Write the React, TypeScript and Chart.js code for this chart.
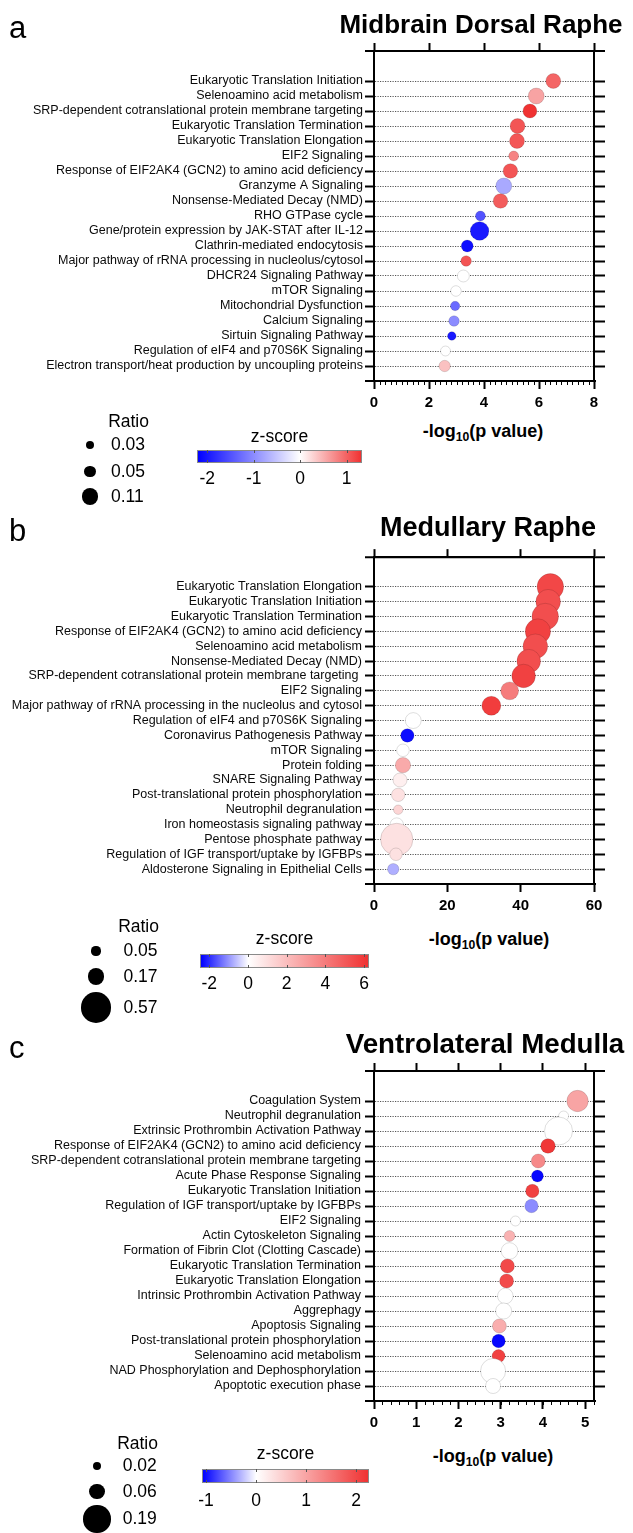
import React, { useEffect, useRef } from 'react';
import { Chart, registerables } from 'chart.js';

Chart.register(...registerables);

// ================= DATA =================
// Panel a — Midbrain Dorsal Raphe
const categoriesA = [
  'Eukaryotic Translation Initiation',
  'Selenoamino acid metabolism',
  'SRP-dependent cotranslational protein membrane targeting',
  'Eukaryotic Translation Termination',
  'Eukaryotic Translation Elongation',
  'EIF2 Signaling',
  'Response of EIF2AK4 (GCN2) to amino acid deficiency',
  'Granzyme A Signaling',
  'Nonsense-Mediated Decay (NMD)',
  'RHO GTPase cycle',
  'Gene/protein expression by JAK-STAT after IL-12',
  'Clathrin-mediated endocytosis',
  'Major pathway of rRNA processing in nucleolus/cytosol',
  'DHCR24 Signaling Pathway',
  'mTOR Signaling',
  'Mitochondrial Dysfunction',
  'Calcium Signaling',
  'Sirtuin Signaling Pathway',
  'Regulation of eIF4 and p70S6K Signaling',
  'Electron transport/heat production by uncoupling proteins',
];
const pValuesA = [6.52, 5.9, 5.67, 5.22, 5.2, 5.08, 4.96, 4.72, 4.6, 3.87, 3.84, 3.39, 3.35, 3.25, 2.98, 2.95, 2.91, 2.83, 2.6, 2.57];
const ratiosA = [0.086, 0.098, 0.075, 0.086, 0.086, 0.038, 0.082, 0.098, 0.082, 0.038, 0.133, 0.055, 0.043, 0.055, 0.043, 0.034, 0.043, 0.028, 0.038, 0.05];
const zScoresA = [1.0, 0.6, 1.33, 1.1, 1.1, 0.8, 1.1, -0.75, 1.05, -1.5, -2.0, -2.1, 1.1, 0, 0, -1.3, -1.0, -2.0, 0, 0.4];
const xTicksA = [0, 2, 4, 6, 8];
const zTicksA = [-2, -1, 0, 1];
const ratioLegendA = [0.03, 0.05, 0.11];

// Panel b — Medullary Raphe
const categoriesB = [
  'Eukaryotic Translation Elongation',
  'Eukaryotic Translation Initiation',
  'Eukaryotic Translation Termination',
  'Response of EIF2AK4 (GCN2) to amino acid deficiency',
  'Selenoamino acid metabolism',
  'Nonsense-Mediated Decay (NMD)',
  'SRP-dependent cotranslational protein membrane targeting ',
  'EIF2 Signaling',
  'Major pathway of rRNA processing in the nucleolus and cytosol',
  'Regulation of eIF4 and p70S6K Signaling',
  'Coronavirus Pathogenesis Pathway',
  'mTOR Signaling',
  'Protein folding',
  'SNARE Signaling Pathway',
  'Post-translational protein phosphorylation',
  'Neutrophil degranulation',
  'Iron homeostasis signaling pathway',
  'Pentose phosphate pathway',
  'Regulation of IGF transport/uptake by IGFBPs',
  'Aldosterone Signaling in Epithelial Cells',
];
const pValuesB = [48.1, 47.5, 46.7, 44.7, 44.0, 42.2, 40.8, 37.0, 32.0, 10.7, 9.1, 7.9, 7.9, 7.1, 6.6, 6.6, 6.2, 6.2, 6.0, 5.25];
const ratiosB = [0.42, 0.36, 0.42, 0.38, 0.36, 0.33, 0.33, 0.19, 0.215, 0.15, 0.107, 0.094, 0.14, 0.117, 0.107, 0.053, 0.107, 0.62, 0.094, 0.077];
const zScoresB = [5.6, 5.4, 5.4, 5.8, 5.4, 5.4, 5.8, 4.0, 5.9, 0, -2.35, 0, 2.6, 0.5, 0.9, 1.27, 0, 0.9, 0.9, -0.78];
const xTicksB = [0, 20, 40, 60];
const zTicksB = [-2, 0, 2, 4, 6];
const ratioLegendB = [0.05, 0.17, 0.57];

// Panel c — Ventrolateral Medulla
const categoriesC = [
  'Coagulation System',
  'Neutrophil degranulation',
  'Extrinsic Prothrombin Activation Pathway',
  'Response of EIF2AK4 (GCN2) to amino acid deficiency',
  'SRP-dependent cotranslational protein membrane targeting',
  'Acute Phase Response Signaling',
  'Eukaryotic Translation Initiation',
  'Regulation of IGF transport/uptake by IGFBPs',
  'EIF2 Signaling',
  'Actin Cytoskeleton Signaling',
  'Formation of Fibrin Clot (Clotting Cascade)',
  'Eukaryotic Translation Termination',
  'Eukaryotic Translation Elongation',
  'Intrinsic Prothrombin Activation Pathway',
  'Aggrephagy',
  'Apoptosis Signaling',
  'Post-translational protein phosphorylation',
  'Selenoamino acid metabolism',
  'NAD Phosphorylation and Dephosphorylation',
  'Apoptotic execution phase',
];
const pValuesC = [4.82, 4.49, 4.37, 4.12, 3.89, 3.87, 3.75, 3.73, 3.35, 3.21, 3.21, 3.16, 3.14, 3.11, 3.07, 2.97, 2.95, 2.95, 2.82, 2.82];
const ratiosC = [0.119, 0.026, 0.204, 0.055, 0.051, 0.037, 0.047, 0.047, 0.026, 0.031, 0.072, 0.051, 0.051, 0.063, 0.067, 0.051, 0.047, 0.044, 0.163, 0.059];
const zScoresC = [1.0, 0, 0, 2.2, 1.3, -1.05, 2.1, -0.49, 0, 0.85, 0, 2.0, 2.0, 0, 0, 0.9, -1.05, 2.1, 0, 0];
const xTicksC = [0, 1, 2, 3, 4, 5];
const zTicksC = [-1, 0, 1, 2];
const ratioLegendC = [0.02, 0.06, 0.19];

// ================= STYLE / LAYOUT =================
const FONT = "'Liberation Sans', Arial, Helvetica, sans-serif";
const BLUE = [0, 0, 255];
const RED = [240, 50, 50];
const LEGEND_FS = 17.5;
const LETTER_FS = 31;
const AXIS_TITLE_FS = 18;
const Y_LABEL_FS = 12.5;
const X_TICK_FS = 15;

Chart.defaults.font.family = FONT;

type Layout = {
  canvasTop: number; canvasH: number; areaTop: number; areaBottom: number; areaLeft: number; areaRight: number;
  minorStep: number; sizeK: number; yMin: number; yMax: number; labelShift: number;
  letterBase: number; titleCx: number; titleBase: number; titleFs: number; axisTitleCx: number; axisTitleBase: number;
  ratioRight: number; ratioBase: number; dotCx: number; legendLabelX: number; legendYs: number[];
  zTitleBase: number; barLeft: number; barRight: number; barTop: number; barBottom: number; zLabelBase: number;
};

type Spec = {
  letter: string; title: string;
  categories: string[]; pValues: number[]; ratios: number[]; zScores: number[];
  xTicks: number[]; xMax: number; zTicks: number[]; zMin: number; zMax: number; ratioLegend: number[];
  layout: Layout;
};

const specA: Spec = {
  letter: 'a', title: 'Midbrain Dorsal Raphe',
  categories: categoriesA, pValues: pValuesA, ratios: ratiosA, zScores: zScoresA,
  xTicks: xTicksA, xMax: 8, zTicks: zTicksA, zMin: -2.22, zMax: 1.33, ratioLegend: ratioLegendA,
  layout: {
    canvasTop: 36, canvasH: 384, areaTop: 51, areaBottom: 381, areaLeft: 374, areaRight: 594,
    minorStep: 0.2, sizeK: 25.5, yMin: -2, yMax: 20, labelShift: 2,
    letterBase: 38.3, titleCx: 481, titleBase: 33.3, titleFs: 26, axisTitleCx: 483, axisTitleBase: 437.4,
    ratioRight: 149, ratioBase: 428.3, dotCx: 90, legendLabelX: 111, legendYs: [445, 471.7, 496.7],
    zTitleBase: 442.5, barLeft: 197, barRight: 362, barTop: 450, barBottom: 463, zLabelBase: 485,
  },
};

const specB: Spec = {
  letter: 'b', title: 'Medullary Raphe',
  categories: categoriesB, pValues: pValuesB, ratios: ratiosB, zScores: zScoresB,
  xTicks: xTicksB, xMax: 60, zTicks: zTicksB, zMin: -2.48, zMax: 6.25, ratioLegend: ratioLegendB,
  layout: {
    canvasTop: 540, canvasH: 384, areaTop: 554, areaBottom: 884, areaLeft: 374, areaRight: 594,
    minorStep: 0, sizeK: 20.5, yMin: -2, yMax: 20, labelShift: 3,
    letterBase: 541.7, titleCx: 488, titleBase: 537, titleFs: 27, axisTitleCx: 489, axisTitleBase: 945.4,
    ratioRight: 159, ratioBase: 933.3, dotCx: 96, legendLabelX: 123.5, legendYs: [951, 976.7, 1007.5],
    zTitleBase: 945, barLeft: 200, barRight: 369, barTop: 954, barBottom: 968, zLabelBase: 990,
  },
};

const specC: Spec = {
  letter: 'c', title: 'Ventrolateral Medulla',
  categories: categoriesC, pValues: pValuesC, ratios: ratiosC, zScores: zScoresC,
  xTicks: xTicksC, xMax: 5.21, zTicks: zTicksC, zMin: -1.08, zMax: 2.26, ratioLegend: ratioLegendC,
  layout: {
    canvasTop: 1056, canvasH: 384, areaTop: 1070, areaBottom: 1401, areaLeft: 374, areaRight: 594,
    minorStep: 0.2, sizeK: 31, yMin: -2, yMax: 20, labelShift: 4,
    letterBase: 1058.3, titleCx: 485, titleBase: 1053, titleFs: 27.7, axisTitleCx: 493, axisTitleBase: 1462.5,
    ratioRight: 158, ratioBase: 1450, dotCx: 97, legendLabelX: 122.7, legendYs: [1466, 1491.7, 1519],
    zTitleBase: 1460, barLeft: 202, barRight: 369, barTop: 1469, barBottom: 1483, zLabelBase: 1506.7,
  },
};

const SPECS = [specA, specB, specC];

function zColor(z: number, zMin: number, zMax: number): string {
  const t = z >= 0 ? Math.min(1, z / zMax) : Math.min(1, z / zMin);
  const end = z >= 0 ? RED : BLUE;
  const c = end.map((e) => Math.round(255 + (e - 255) * t));
  return `rgb(${c[0]},${c[1]},${c[2]})`;
}

// ================= CHART =================
function BubblePanel({ spec }: { spec: Spec }) {
  const ref = useRef<HTMLCanvasElement | null>(null);
  const L = spec.layout;
  useEffect(() => {
    const canvas = ref.current;
    if (!canvas) return;
    const rowTicks = spec.categories.map((_, i) => i);
    const data = spec.categories.map((_, i) => ({
      x: spec.pValues[i],
      y: i,
      r: L.sizeK * Math.sqrt(spec.ratios[i]),
    }));
    const fills = spec.zScores.map((z) => zColor(z, spec.zMin, spec.zMax));
    const setTicks = (vals: number[]) => (s: any) => {
      s.ticks = vals.map((v) => ({ value: v }));
    };
    const leftTick = 9;
    const rightTick = 11;
    const framePlugin = {
      id: 'frameExtras',
      afterDraw(chart: any) {
        const { ctx, chartArea: a, scales } = chart;
        ctx.save();
        ctx.strokeStyle = '#000';
        ctx.lineWidth = 2;
        ctx.beginPath();
        ctx.moveTo(a.left - leftTick, a.top);
        ctx.lineTo(a.right + rightTick, a.top);
        ctx.moveTo(a.left - leftTick, a.bottom);
        ctx.lineTo(a.right + 2, a.bottom);
        ctx.stroke();
        if (L.minorStep > 0) {
          ctx.lineWidth = 1;
          ctx.beginPath();
          const n = Math.floor(spec.xMax / L.minorStep + 1e-6);
          for (let i = 0; i <= n; i++) {
            const px = Math.round(scales.x.getPixelForValue(i * L.minorStep)) + 0.5;
            ctx.moveTo(px, a.bottom);
            ctx.lineTo(px, a.bottom + 4);
          }
          ctx.stroke();
        }
        ctx.restore();
      },
    };
    const axisBorder = { width: 2, color: '#000' };
    const chart = new Chart(canvas, {
      type: 'bubble',
      data: {
        datasets: [
          {
            data,
            backgroundColor: fills,
            borderColor: 'rgba(0,0,0,0.13)',
            borderWidth: 1,
            hoverRadius: 0,
          } as any,
        ],
      },
      options: {
        animation: false,
        responsive: false,
        maintainAspectRatio: false,
        devicePixelRatio: 1,
        events: [],
        layout: { padding: 0 },
        plugins: {
          legend: { display: false },
          tooltip: { enabled: false },
          title: { display: false },
        },
        scales: {
          x: {
            type: 'linear',
            position: 'bottom',
            min: 0,
            max: spec.xMax,
            afterBuildTicks: setTicks(spec.xTicks),
            afterFit: (s: any) => {
              s.height = L.canvasTop + L.canvasH - L.areaBottom;
            },
            ticks: {
              font: { size: X_TICK_FS, weight: 'bold' },
              color: '#000',
              padding: 4.5,
              maxRotation: 0,
              autoSkip: false,
              callback: (v: any) => String(v),
            },
            grid: { drawOnChartArea: false, tickLength: 8, tickWidth: 2, tickColor: '#000' },
            border: axisBorder,
          },
          x2: {
            type: 'linear',
            position: 'top',
            min: 0,
            max: spec.xMax,
            afterBuildTicks: setTicks(spec.xTicks),
            afterFit: (s: any) => {
              s.height = L.areaTop - L.canvasTop;
            },
            ticks: { display: false },
            grid: { drawOnChartArea: false, tickLength: 8, tickWidth: 2, tickColor: '#000' },
            border: axisBorder,
          },
          y: {
            type: 'linear',
            position: 'left',
            reverse: true,
            min: L.yMin,
            max: L.yMax,
            afterBuildTicks: setTicks(rowTicks),
            afterFit: (s: any) => {
              s.width = L.areaLeft;
            },
            ticks: {
              font: { size: Y_LABEL_FS },
              color: '#0a0a0a',
              padding: L.labelShift,
              autoSkip: false,
              callback: (v: any) => spec.categories[Math.round(Number(v))] ?? '',
            },
            grid: { color: '#555', lineWidth: 1, tickLength: leftTick, tickWidth: 2, tickColor: '#000' },
            border: { width: 2, color: '#000', dash: [1.2, 1.3] },
          },
          y2: {
            type: 'linear',
            position: 'right',
            reverse: true,
            min: L.yMin,
            max: L.yMax,
            afterBuildTicks: setTicks(rowTicks),
            afterFit: (s: any) => {
              s.width = 633 - L.areaRight;
            },
            ticks: { display: false },
            grid: { drawOnChartArea: false, tickLength: rightTick, tickWidth: 2, tickColor: '#000' },
            border: axisBorder,
          },
        },
      } as any,
      plugins: [framePlugin],
    });
    return () => chart.destroy();
  }, [spec]);
  return (
    <canvas
      ref={ref}
      width={633}
      height={L.canvasH}
      style={{ position: 'absolute', left: 0, top: L.canvasTop, width: 633, height: L.canvasH }}
    />
  );
}

// ================= HTML TEXT / LEGENDS =================
function Txt({
  x, base, size, bold, align = 'left', children,
}: { x: number; base: number; size: number; bold?: boolean; align?: 'left' | 'center' | 'right'; children: any }) {
  const top = base - 0.8465 * size;
  const style: any = {
    position: 'absolute',
    top,
    fontFamily: FONT,
    fontSize: size,
    lineHeight: `${size}px`,
    fontWeight: bold ? 'bold' : 'normal',
    whiteSpace: 'nowrap',
    color: '#000',
  };
  if (align === 'left') {
    style.left = x;
  } else if (align === 'center') {
    style.left = x - 300;
    style.width = 600;
    style.textAlign = 'center';
  } else {
    style.left = x - 600;
    style.width = 600;
    style.textAlign = 'right';
  }
  return <div style={style}>{children}</div>;
}

function PanelDecor({ spec }: { spec: Spec }) {
  const L = spec.layout;
  const barW = L.barRight - L.barLeft;
  const zeroPct = ((0 - spec.zMin) / (spec.zMax - spec.zMin)) * 100;
  const zx = (t: number) => L.barLeft + ((t - spec.zMin) / (spec.zMax - spec.zMin)) * barW;
  const barCx = (L.barLeft + L.barRight) / 2;
  return (
    <>
      <Txt x={9} base={L.letterBase} size={LETTER_FS}>{spec.letter}</Txt>
      <Txt x={L.titleCx} base={L.titleBase} size={L.titleFs} bold align="center">{spec.title}</Txt>
      <Txt x={L.axisTitleCx} base={L.axisTitleBase} size={AXIS_TITLE_FS} bold align="center">
        -log<span style={{ fontSize: '0.68em', position: 'relative', top: '0.32em' }}>10</span>(p value)
      </Txt>
      <Txt x={L.ratioRight} base={L.ratioBase} size={LEGEND_FS} align="right">Ratio</Txt>
      {spec.ratioLegend.map((r, i) => {
        const rad = L.sizeK * Math.sqrt(r);
        return (
          <React.Fragment key={i}>
            <div
              style={{
                position: 'absolute',
                left: L.dotCx - rad,
                top: L.legendYs[i] - rad,
                width: rad * 2,
                height: rad * 2,
                borderRadius: '50%',
                background: '#000',
              }}
            />
            <Txt x={L.legendLabelX} base={L.legendYs[i] + 0.358 * LEGEND_FS} size={LEGEND_FS}>
              {r.toFixed(2)}
            </Txt>
          </React.Fragment>
        );
      })}
      <Txt x={barCx} base={L.zTitleBase} size={LEGEND_FS} align="center">z-score</Txt>
      <div
        style={{
          position: 'absolute',
          left: L.barLeft,
          top: L.barTop,
          width: barW,
          height: L.barBottom - L.barTop,
          boxSizing: 'border-box',
          border: '1px solid #8a8a8a',
          background: `linear-gradient(to right, rgb(${BLUE.join(',')}) 0%, rgb(255,255,255) ${zeroPct}%, rgb(${RED.join(',')}) 100%)`,
        }}
      />
      {spec.zTicks.map((t, i) => (
        <React.Fragment key={'zt' + i}>
          <div style={{ position: 'absolute', left: Math.round(zx(t)), top: L.barTop, width: 1, height: 3, background: '#555' }} />
          <div style={{ position: 'absolute', left: Math.round(zx(t)), top: L.barBottom - 3, width: 1, height: 3, background: '#555' }} />
          <Txt x={zx(t)} base={L.zLabelBase} size={LEGEND_FS} align="center">{String(t)}</Txt>
        </React.Fragment>
      ))}
    </>
  );
}

export default function App() {
  return (
    <div
      style={{
        position: 'absolute',
        left: 0,
        top: 0,
        width: 633,
        height: 1533,
        overflow: 'hidden',
        background: '#fff',
      }}
    >
      {SPECS.map((s, i) => (
        <BubblePanel key={'c' + i} spec={s} />
      ))}
      {SPECS.map((s, i) => (
        <PanelDecor key={'d' + i} spec={s} />
      ))}
    </div>
  );
}
